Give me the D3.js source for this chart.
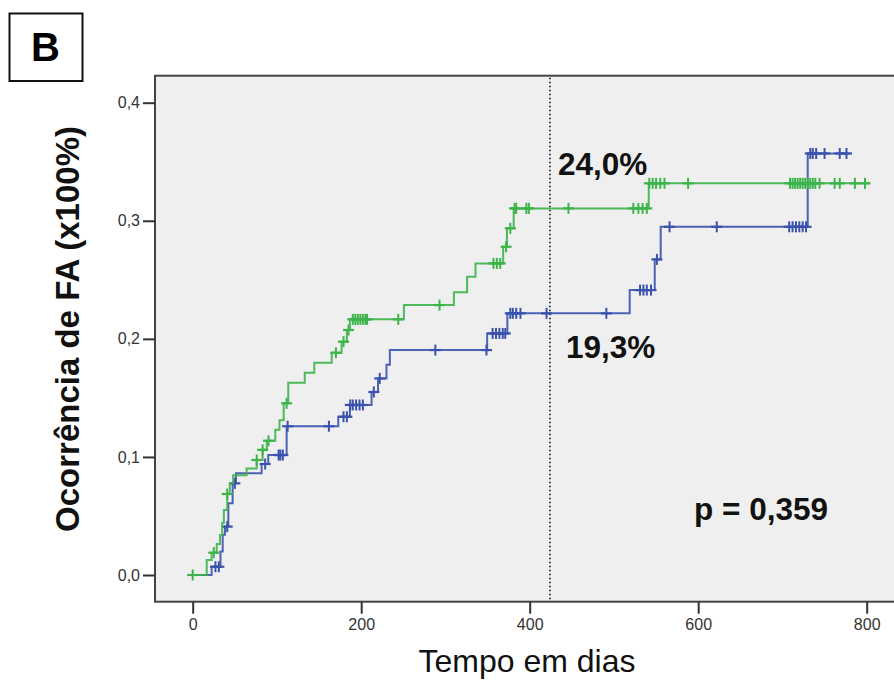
<!DOCTYPE html>
<html>
<head>
<meta charset="utf-8">
<script src="https://cdn.jsdelivr.net/npm/d3@7"></script>
<style>
  body { margin: 0; background: #fff; }
  svg { display: block; font-family: "Liberation Sans", Arial, sans-serif; }
</style>
</head>
<body>
<svg id="km" width="894" height="680"></svg>
<script>
// tick labels
const xTicks = [0, 200, 400, 600, 800];
const yTicks = [0, 0.1, 0.2, 0.3, 0.4];

// green group: [day, cumulative occurrence] after each event
const greenSteps = [
  [0, 0], [16.6, 0.0127], [22.5, 0.0189], [28.5, 0.0262], [32.4, 0.0339],
  [35, 0.044], [37, 0.055], [41, 0.0686], [44, 0.0776], [48, 0.0845],
  [64, 0.0903], [76, 0.0974], [83, 0.106], [88, 0.1137], [98, 0.123],
  [103, 0.131], [108, 0.1454], [113.4, 0.1628], [133, 0.1713], [144.3, 0.1798],
  [165, 0.1882], [176.7, 0.1976], [183, 0.2075], [186.6, 0.2165], [250.7, 0.2286],
  [310, 0.2394], [325.7, 0.2526], [335.7, 0.2639], [368.5, 0.278], [373, 0.2936],
  [381, 0.3105], [541.3, 0.3317], [803, 0.3317]
];
const greenCensored = [
  0, 25, 41, 76, 83, 90, 111.5, 170, 179, 185, 190, 193, 196, 199, 202, 205, 207,
  244, 293, 357, 361, 365, 372, 377, 382, 384, 396, 399, 446, 523, 529, 534, 539,
  542, 546, 550, 555, 560, 588, 709, 712, 715, 718, 721, 724, 727, 730, 733, 736,
  739, 744, 762, 768, 786, 798
];

// blue group
const blueSteps = [
  [0, 0], [22.5, 0.007], [33, 0.02], [35.6, 0.034], [38.3, 0.041], [42.3, 0.0607],
  [47.4, 0.0776], [51.4, 0.0861], [81.8, 0.094], [89.7, 0.1016], [111.5, 0.126],
  [172.8, 0.134], [186.6, 0.144], [212.3, 0.155], [220, 0.1665], [230, 0.178],
  [234, 0.1905], [349.5, 0.2046], [373.5, 0.2216], [518.7, 0.2413], [548.4, 0.2673],
  [555.5, 0.2949], [730, 0.357], [780, 0.357]
];
const blueCensored = [
  27, 31, 41, 50, 86, 102, 104, 107, 112.7, 161.7, 179, 183, 187, 190, 194, 198, 202,
  215, 222, 288, 348.7, 356, 360, 364, 368, 371, 377, 380, 384, 389, 420, 491, 531,
  535, 539, 544, 551, 566, 622, 708, 712, 716, 720, 724, 728, 733, 736, 740, 750,
  768, 776
];

const cutoffDay = 424;
const labels = [
  { text: "24,0%", x: 558, y: 175 },
  { text: "19,3%", x: 566, y: 358 },
  { text: "p = 0,359", x: 694, y: 520 }
];

const svg = d3.select("#km");
const plot = { left: 155, top: 75.7, right: 900, bottom: 601.7 };

const x = d3.scaleLinear().domain([0, 800]).range([192.7, 866.7]);
const y = d3.scaleLinear().domain([0, 0.4]).range([575, 102.7]);
const comma = d => d3.format(".1f")(d).replace(".", ",");

// panel letter
svg.append("rect")
  .attr("x", 9.5).attr("y", 13.5).attr("width", 73).attr("height", 67.5)
  .attr("fill", "none").attr("stroke", "#111").attr("stroke-width", 2);
svg.append("text")
  .attr("x", 45.5).attr("y", 61)
  .attr("text-anchor", "middle")
  .attr("font-size", 40).attr("font-weight", "bold")
  .text("B");

// plot background + frame
svg.append("rect")
  .attr("x", plot.left).attr("y", plot.top)
  .attr("width", plot.right - plot.left).attr("height", plot.bottom - plot.top)
  .attr("fill", "#efefef").attr("stroke", "#444").attr("stroke-width", 2);

// axes
const yAxis = svg.append("g")
  .attr("transform", "translate(" + plot.left + ",0)")
  .call(d3.axisLeft(y).tickValues(yTicks).tickFormat(comma).tickSize(12).tickPadding(3));
const xAxis = svg.append("g")
  .attr("transform", "translate(0," + plot.bottom + ")")
  .call(d3.axisBottom(x).tickValues(xTicks).tickFormat(d3.format("d")).tickSize(12).tickPadding(5));
[xAxis, yAxis].forEach(g => {
  g.select(".domain").remove();
  g.selectAll(".tick line").attr("stroke", "#333").attr("stroke-width", 2);
  g.selectAll(".tick text")
    .attr("font-family", "'Liberation Sans', Arial, sans-serif")
    .attr("font-size", 16).attr("fill", "#333");
});

// cutoff line
svg.append("line")
  .attr("x1", x(cutoffDay)).attr("x2", x(cutoffDay))
  .attr("y1", plot.top + 2).attr("y2", plot.bottom - 2)
  .attr("stroke", "#111").attr("stroke-width", 1.6)
  .attr("stroke-dasharray", "1.6,2.4");

// step curves
const stepLine = d3.line()
  .x(d => x(d[0]))
  .y(d => y(d[1]))
  .curve(d3.curveStepAfter);

function valueAt(steps, t) {
  let v = 0;
  steps.forEach(s => { if (s[0] <= t) v = s[1]; });
  return v;
}

function drawGroup(steps, censored, color) {
  const g = svg.append("g");
  g.append("path")
    .attr("d", stepLine(steps))
    .attr("fill", "none")
    .attr("stroke", color)
    .attr("stroke-width", 2)
    .attr("opacity", 0.9);
  const marks = g.selectAll("g.cens")
    .data(censored)
    .enter()
    .append("g")
    .attr("transform", t => "translate(" + x(t) + "," + y(valueAt(steps, t)) + ")");
  marks.append("line").attr("x1", -5.5).attr("x2", 5.5).attr("y1", 0).attr("y2", 0)
    .attr("stroke", color).attr("stroke-width", 2.2);
  marks.append("line").attr("x1", 0).attr("x2", 0).attr("y1", -5.5).attr("y2", 5.5)
    .attr("stroke", color).attr("stroke-width", 2);
}

drawGroup(blueSteps, blueCensored, "#3a52ad");
drawGroup(greenSteps, greenCensored, "#3cb44a");

// annotations
svg.selectAll("text.note")
  .data(labels)
  .enter()
  .append("text")
  .attr("class", "note")
  .attr("x", d => d.x).attr("y", d => d.y)
  .attr("font-size", 31.5).attr("font-weight", "bold")
  .attr("fill", "#111")
  .text(d => d.text);

// axis titles
svg.append("text")
  .attr("x", 527).attr("y", 672)
  .attr("text-anchor", "middle")
  .attr("font-size", 32)
  .attr("fill", "#111")
  .text("Tempo em dias");
svg.append("text")
  .attr("transform", "translate(79,329) rotate(-90)")
  .attr("text-anchor", "middle")
  .attr("font-size", 33).attr("font-weight", "bold")
  .attr("fill", "#111")
  .text("Ocorrência de FA (x100%)");
</script>
</body>
</html>
